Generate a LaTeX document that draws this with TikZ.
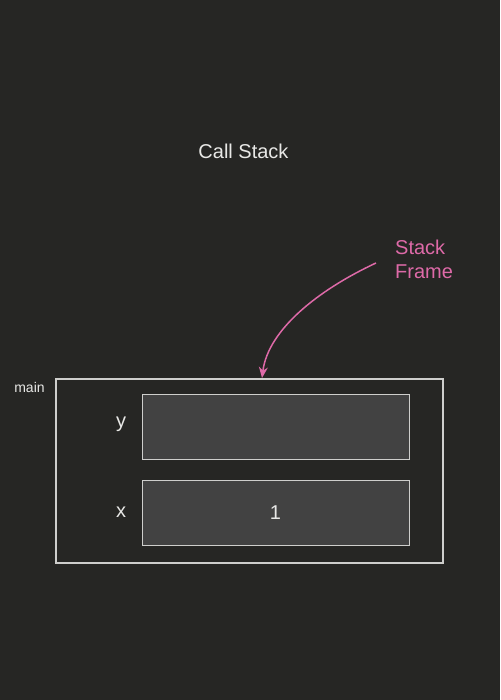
\documentclass[tikz,border=0pt]{standalone}
\usepackage{fontspec}
\setmainfont{Liberation Sans}
\usetikzlibrary{
        arrows.meta,
        positioning
    }
\definecolor{bgdark}{RGB}{38,38,36}
\definecolor{slotgray}{RGB}{66,66,66}
\definecolor{edgegray}{RGB}{206,206,204}
\definecolor{textgray}{RGB}{232,232,230}
\definecolor{notepink}{RGB}{222,106,168}
\tikzset{>={Stealth[length=11pt,width=9pt]},auto}
\tikzset{
    frame/.style={draw=edgegray,line width=2pt,minimum width=387pt,minimum height=184pt,inner sep=0pt},
    slot/.style={draw=edgegray,fill=slotgray,line width=1pt,minimum width=267pt,minimum height=65pt,inner sep=0pt,text=textgray,font=\fontsize{20}{24}\selectfont},
    varname/.style={text=textgray,inner sep=0pt,anchor=base,font=\fontsize{20}{24}\selectfont},
    note/.style={text=notepink,inner sep=0pt,align=left,font=\fontsize{20}{24}\selectfont}
}

\begin{document}
\begin{tikzpicture}[x=1pt,y=-1pt]
                \fill[bgdark] (0,0) rectangle (500,700);
                \useasboundingbox (0,0) rectangle (500,700);
                \node[varname] (title) at (243.5,159) {Call Stack};
                \node[frame] (main) at (249.5,471) {};
                \node[varname,font=\fontsize{14}{17}\selectfont] (mainname) at (29.5,392) {main};
                \node[slot] (y) at (276,426.5) {};
                \node[slot] (x) at (275.5,512.5) {1};
                \node[varname] (yname) at (121,427) {y};
                \node[varname] (xname) at (121,517) {x};
                \node[note,anchor=north west] (stackframe) at (395,240) {Stack\\Frame};
                \coordinate (tail) at (376,263);
                \draw[->,notepink,line width=1.5pt]
                    (tail) .. controls (318,290) and (268,330) .. ([xshift=12.5pt]main.north);
            \end{tikzpicture}
\end{document}
